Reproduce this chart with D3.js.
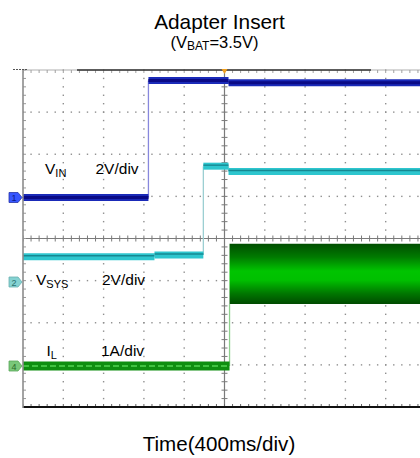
<!DOCTYPE html>
<html><head><meta charset="utf-8">
<script src="https://cdn.jsdelivr.net/npm/d3@7"></script>
<style>body{margin:0;background:#fff}svg{display:block}text{font-family:"Liberation Sans",Arial,sans-serif}</style>
</head><body><svg id="c" width="420" height="458"></svg>
<script>
// ---- data ----
const timeDomainMs = [-2000, 2000];          // 400 ms/div, 10 divisions
const divDomain = [-4, 4];                    // 8 vertical divisions
const majorX = d3.range(-5, 6);               // division indices
const majorY = d3.range(-4, 5);
const vinTime  = [-2000, -755, -755, 40, 40, 2000];
const vinValue = [0, 0, 5.55, 5.55, 5.45, 5.45];          // V, 2V/div
const vsysTime  = [-2000, -695, -695, -210, -210, 40, 40, 2000];
const vsysValue = [1.2, 1.2, 1.28, 1.28, 5.5, 5.5, 5.25, 5.25]; // V, 2V/div
const ilTime = [-2000, 50, 50, 2000];
const ilMin  = [0, 0, 1.47, 1.47];           // A, 1A/div
const ilMax  = [0, 0, 2.9, 2.9];
const chLabels = [
  {main:"V", sub:"IN",  scale:"2V/div"},
  {main:"V", sub:"SYS", scale:"2V/div"},
  {main:"I", sub:"L",   scale:"1A/div"}
];
const chMarkers = ["1", "2", "4"];

// ---- layout ----
const L = 23, R = 426, T = 70, B = 407;
const svg = d3.select("#c");
const x = d3.scaleLinear().domain(timeDomainMs).range([L, R]);
const xDiv = d3.scaleLinear().domain([-5, 5]).range([L, R]);
const yDiv = d3.scaleLinear().domain(divDomain).range([B, T]);
const ch = [
  {off: 0.973, per: 2, fill: "#1a2ab8", core: "#0a0a86", edge: "#8888dd", w: 7},
  {off: -1.033, per: 2, fill: "#2ec6ce", core: "#168892", edge: "#9ccfd2", w: 7},
  {off: -3.027, per: 1, fill: "#0e8e10", core: "#52d452", edge: "#8fd08f", w: 9}
];
const yCh = (i, v) => yDiv(ch[i].off + v / ch[i].per);

// title
svg.append("text").attr("x", 219.5).attr("y", 29).attr("text-anchor", "middle")
  .attr("font-size", 20.8).attr("fill", "#000").text("Adapter Insert");
const st = svg.append("text").attr("x", 214.5).attr("y", 47.5).attr("text-anchor", "middle")
  .attr("font-size", 16.5).attr("fill", "#000");
st.append("tspan").text("(V");
st.append("tspan").attr("font-size", 12).attr("dy", 2).text("BAT");
st.append("tspan").attr("dy", -2).text("=3.5V)");
svg.append("text").attr("x", 219).attr("y", 451).attr("text-anchor", "middle")
  .attr("font-size", 20.6).attr("fill", "#000").text("Time(400ms/div)");

// clip
svg.append("clipPath").attr("id", "pc").append("rect")
  .attr("x", L).attr("y", T - 6).attr("width", 420 - L).attr("height", B - T + 8);
const g = svg.append("g").attr("clip-path", "url(#pc)");

// grid dots
const minorX = d3.range(-5, 5.001, 0.2);
const minorY = d3.range(-4, 4.001, 0.2);
const grid = g.append("g").attr("fill", "#8f8f8f");
majorX.filter(d => d !== 0 && d !== -5).forEach(d => {
  grid.selectAll(null).data(minorY).join("rect")
    .attr("x", xDiv(d) - 0.7).attr("y", v => yDiv(v) - 0.7).attr("width", 1.4).attr("height", 1.4);
});
majorY.filter(d => d !== 0 && d !== -4 && d !== 4).forEach(d => {
  grid.selectAll(null).data(minorX).join("rect")
    .attr("x", v => xDiv(v) - 0.7).attr("y", yDiv(d) - 0.7).attr("width", 1.4).attr("height", 1.4);
});
// center axes with ticks
const ax = g.append("g").attr("stroke", "#7a7a7a");
ax.append("line").attr("x1", L).attr("x2", 420).attr("y1", yDiv(0)).attr("y2", yDiv(0)).attr("stroke-width", 1.2);
ax.append("line").attr("x1", xDiv(0)).attr("x2", xDiv(0)).attr("y1", T).attr("y2", B).attr("stroke-width", 1.2);
ax.selectAll(null).data(minorX).join("line")
  .attr("x1", d => xDiv(d)).attr("x2", d => xDiv(d))
  .attr("y1", yDiv(0) - 3).attr("y2", yDiv(0) + 3).attr("stroke-width", 1);
ax.selectAll(null).data(minorY).join("line")
  .attr("y1", d => yDiv(d)).attr("y2", d => yDiv(d))
  .attr("x1", xDiv(0) - 3).attr("x2", xDiv(0) + 3).attr("stroke-width", 1);
// left border ticks
ax.selectAll(null).data(minorY).join("line")
  .attr("y1", d => yDiv(d)).attr("y2", d => yDiv(d))
  .attr("x1", L).attr("x2", L + 3).attr("stroke-width", 1).attr("stroke", "#999");
// top border
g.append("line").attr("x1", L).attr("x2", 420).attr("y1", T).attr("y2", T).attr("stroke", "#b0b0b0").attr("stroke-width", 1.2);
g.selectAll(null).data(minorX).join("line")
  .attr("x1", d => xDiv(d)).attr("x2", d => xDiv(d))
  .attr("y1", T).attr("y2", T + 3).attr("stroke", "#a0a0a0");
// bottom ticks
g.selectAll(null).data(minorX).join("line")
  .attr("x1", d => xDiv(d)).attr("x2", d => xDiv(d))
  .attr("y1", B - 3).attr("y2", B).attr("stroke", "#666");

// ---- traces ----
// hiVals (optional): where hi > lo the channel is drawn as a band instead of a line
function drawStep(i, times, vals, hiVals) {
  const c = ch[i];
  const tg = g.append("g");
  for (let k = 0; k < times.length - 1; k++) {
    const t0 = times[k], t1 = times[k + 1], v0 = vals[k], v1 = vals[k + 1];
    if (t0 === t1) {
      tg.append("line").attr("x1", x(t0)).attr("x2", x(t0))
        .attr("y1", yCh(i, v0)).attr("y2", yCh(i, v1))
        .attr("stroke", c.edge).attr("stroke-width", 1.3);
    }
  }
  for (let k = 0; k < times.length - 1; k++) {
    const t0 = times[k], t1 = times[k + 1], v0 = vals[k];
    if (hiVals && hiVals[k] > vals[k]) continue;
    if (t0 !== t1) {
      tg.append("line").attr("x1", x(t0)).attr("x2", x(t1))
        .attr("y1", yCh(i, v0)).attr("y2", yCh(i, v0))
        .attr("stroke", c.fill).attr("stroke-width", c.w);
      tg.append("line").attr("x1", x(t0)).attr("x2", x(t1))
        .attr("y1", yCh(i, v0) - (i === 1 ? 1 : 0)).attr("y2", yCh(i, v0) - (i === 1 ? 1 : 0))
        .attr("stroke", c.core).attr("stroke-width", i === 0 ? 3 : 1.4)
        .attr("stroke-dasharray", i === 2 ? "6,3" : null);
    }
  }
}
drawStep(0, vinTime, vinValue);
drawStep(1, vsysTime, vsysValue);

// IL: line where min==max, band where different
const ilPts = ilTime.map((t, k) => ({t, lo: ilMin[k], hi: ilMax[k]}));
const grad = svg.append("defs").append("linearGradient").attr("id", "gg")
  .attr("x1", 0).attr("x2", 0).attr("y1", 0).attr("y2", 1);
[[0, "#004e00"], [0.22, "#007a00"], [0.45, "#00c400"], [0.6, "#00c000"], [0.82, "#007800"], [1, "#004a00"]]
  .forEach(([o, c]) => grad.append("stop").attr("offset", o).attr("stop-color", c));
const bandPts = ilPts.filter(p => p.hi > p.lo);
drawStep(2, ilTime, ilMin, ilMax);
g.append("path").datum(bandPts)
  .attr("d", d3.area().x(p => x(p.t)).y0(p => yCh(2, p.lo)).y1(p => yCh(2, p.hi)))
  .attr("fill", "url(#gg)");

// ---- overlay details ----
// bottom border
svg.append("line").attr("x1", L).attr("x2", 420).attr("y1", B).attr("y2", B).attr("stroke", "#111").attr("stroke-width", 2.2);
// left border
svg.append("line").attr("x1", L).attr("x2", L).attr("y1", T).attr("y2", B + 1).attr("stroke", "#8c8c8c").attr("stroke-width", 1.6);
// record bar on top border
svg.append("line").attr("x1", 77).attr("x2", 371).attr("y1", T).attr("y2", T).attr("stroke", "#333").attr("stroke-width", 1.3);
svg.append("line").attr("x1", 13).attr("x2", 28).attr("y1", T - 0.5).attr("y2", T - 0.5).attr("stroke", "#555").attr("stroke-width", 1.2).attr("stroke-dasharray", "2,1");
// trigger marker
svg.append("path").attr("d", `M${xDiv(0) - 3},${T - 1} h6 l-3,5 z`).attr("fill", "#f0a020");

// channel markers
const mk = [
  {fill: "#2244ff", stroke: "#1020a0", txt: "#0b1a8a"},
  {fill: "#78cece", stroke: "#5aa8a8", txt: "#2a7070"},
  {fill: "#6cc26c", stroke: "#4aa04a", txt: "#2b6a2b"}
];
chMarkers.forEach((m, i) => {
  const yy = yCh(i, 0);
  svg.append("path").attr("d", `M9,${yy - 5} h9 l4,5 l-4,5 h-9 z`)
    .attr("fill", mk[i].fill).attr("stroke", mk[i].stroke).attr("stroke-width", 0.8).attr("opacity", 0.9);
  svg.append("text").attr("x", 14).attr("y", yy + 3.5).attr("text-anchor", "middle")
    .attr("font-size", 9).attr("fill", mk[i].txt).text(m);
});

// channel labels
const labPos = [
  {x: 45, sx: 95.5, y: 174},
  {x: 36, sx: 102, y: 284.5},
  {x: 46.5, sx: 101, y: 356}
];
chLabels.forEach((l, i) => {
  const p = labPos[i];
  const t = svg.append("text").attr("x", p.x).attr("y", p.y).attr("font-size", 15.5).attr("fill", "#000");
  t.append("tspan").text(l.main);
  t.append("tspan").attr("font-size", 11).attr("dy", 3).text(l.sub);
  svg.append("text").attr("x", p.sx).attr("y", p.y).attr("font-size", 15.5).attr("fill", "#000").text(l.scale);
});
</script></body></html>
